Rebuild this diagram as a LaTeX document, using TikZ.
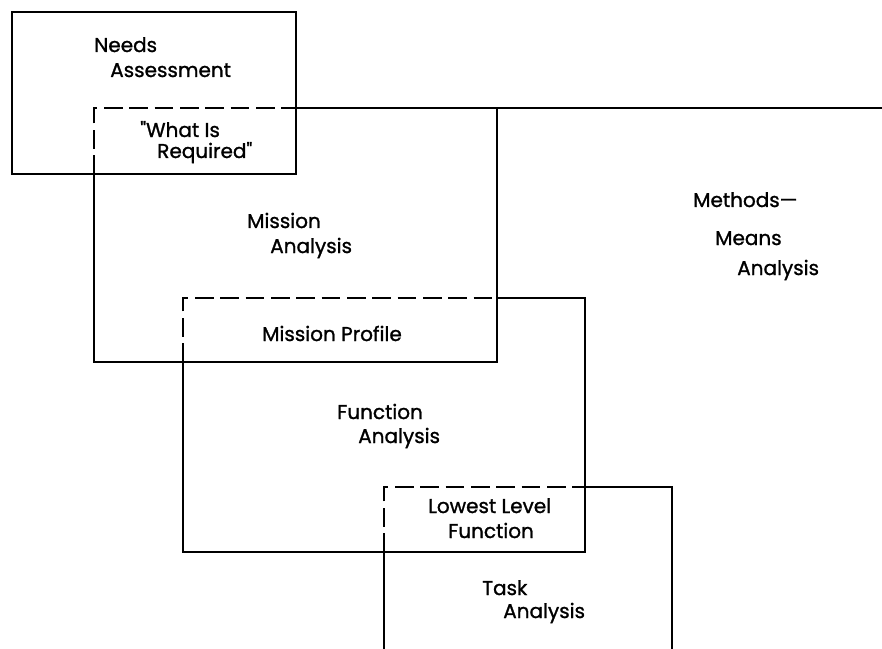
\documentclass[tikz,border=0pt]{standalone}
\usepackage{fontspec}
\setmainfont{Poppins}[Ligatures=TeXOff, FakeBold=1.2, AutoFakeBold=1.2]
\begin{document}
\begin{tikzpicture}[x=0.75pt,y=-0.75pt,
  frame/.style={line width=1.6pt, line join=miter},
  hidden/.style={frame, dash pattern=on 14pt off 5pt},
  lbl/.style={anchor=base west, inner sep=0pt, font=\fontsize{15}{17}\selectfont\bfseries}]
\useasboundingbox (0,0) rectangle (882,649);

% corner points of the boxes
\coordinate (na1) at (12,12);   \coordinate (na2) at (296,174);
\coordinate (ma1) at (94,108);  \coordinate (ma2) at (497,362);
\coordinate (fa1) at (183,298); \coordinate (fa2) at (585,552);
\coordinate (ta1) at (384,487); \coordinate (ta2) at (672,649);
\coordinate (mm) at (882,108);

% Needs Assessment
\draw[frame] (na1) rectangle (na2);

% Mission Analysis (overlap with Needs Assessment dashed)
\draw[hidden] (ma1 |- na2) -- (ma1) -- (na2 |- ma1);
\draw[frame] (ma1 |- na2) -- (ma1 |- ma2) -- (ma2) -- (ma2 |- ma1) -- (na2 |- ma1);
% Methods-Means frame line
\draw[frame] (ma2 |- ma1) -- (mm);

% Function Analysis
\draw[hidden] (fa1 |- ma2) -- (fa1) -- (ma2 |- fa1);
\draw[frame] (fa1 |- ma2) -- (fa1 |- fa2) -- (fa2) -- (fa2 |- fa1) -- (ma2 |- fa1);

% Task Analysis (open at the bottom)
\draw[hidden] (ta1 |- fa2) -- (ta1) -- (fa2 |- ta1);
\draw[frame] (ta1 |- fa2) -- (ta1 |- ta2);
\draw[frame] (fa2 |- ta1) -- (ta2 |- ta1) -- (ta2);

% labels
\node[lbl] (t1) at (94,52) {Needs};
\node[lbl] (t2) at (110,77) {Assessment};
\node[lbl] (t3) at (140,137) {"What Is};
\node[lbl] (t4) at (157,158) {Required"};
\node[lbl] (t5) at (247,228) {Mission};
\node[lbl] (t6) at (270,253) {Analysis};
\node[lbl] (t7) at (262,341) {Mission Profile};
\node[lbl] (t8) at (337,419) {Function};
\node[lbl] (t9) at (358,443) {Analysis};
\node[lbl] (t10) at (428,513) {Lowest Level};
\node[lbl] (t11) at (448,538) {Function};
\node[lbl] (t12) at (482,595) {Task};
\node[lbl] (t13) at (503,618) {Analysis};
\node[lbl] (t14) at (693,207) {Methods—};
\node[lbl] (t15) at (715,245) {Means};
\node[lbl] (t16) at (737,275) {Analysis};
\end{tikzpicture}
\end{document}
